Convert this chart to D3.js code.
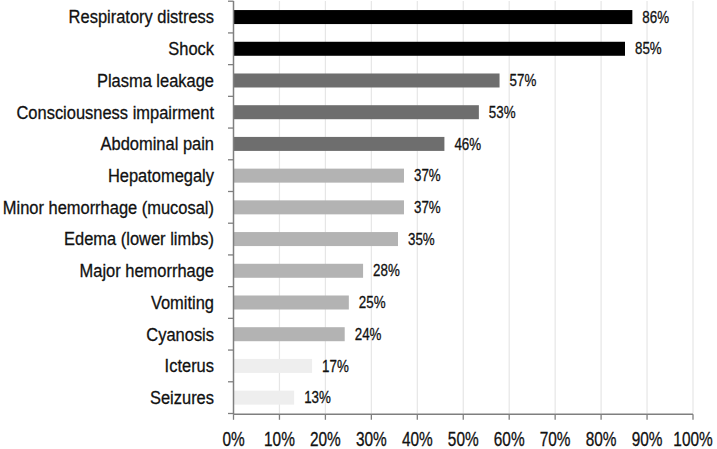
<!DOCTYPE html>
<html>
<head>
<meta charset="utf-8">
<script src="https://cdn.jsdelivr.net/npm/d3@7"></script>
<style>
  html, body { margin: 0; padding: 0; background: #fff; }
  svg { display: block; }
  text { font-family: "Liberation Sans", Arial, sans-serif; fill: #111; stroke: #111; stroke-width: 0.3px; }
</style>
</head>
<body>
<svg id="chart" width="717" height="449"></svg>
<script>
const categories = [
  "Respiratory distress", "Shock", "Plasma leakage", "Consciousness impairment",
  "Abdominal pain", "Hepatomegaly", "Minor hemorrhage (mucosal)", "Edema (lower limbs)",
  "Major hemorrhage", "Vomiting", "Cyanosis", "Icterus", "Seizures"
];
const values = [86.8, 85.2, 57.9, 53.4, 45.9, 37.1, 37.1, 35.8, 28.2, 25.1, 24.2, 17.1, 13.2];
const valueLabels = ["86%", "85%", "57%", "53%", "46%", "37%", "37%", "35%", "28%", "25%", "24%", "17%", "13%"];
const tiers = [0, 0, 1, 1, 1, 2, 2, 2, 2, 2, 2, 3, 3];
const xTicks = [0, 10, 20, 30, 40, 50, 60, 70, 80, 90, 100];
const tierColors = ["#000000", "#6e6e6e", "#b3b3b3", "#eeeeee"];

const svg = d3.select("#chart");
const x = d3.scaleLinear().domain([0, 100]).range([233.5, 693]);
const y = d3.scaleBand().domain(categories).range([1.2, 413.5]).padding(0);
const bw = y.bandwidth();
const barH = 14;

// gridlines
svg.append("g").selectAll("line").data(xTicks.slice(1)).join("line")
  .attr("x1", d => x(d)).attr("x2", d => x(d))
  .attr("y1", 1).attr("y2", 413.5)
  .attr("stroke", "#e6e6e6").attr("stroke-width", 1.2);

// bars
svg.append("g").selectAll("rect").data(categories).join("rect")
  .attr("x", x(0))
  .attr("y", d => y(d) + bw / 2 - barH / 2)
  .attr("width", (d, i) => x(values[i]) - x(0))
  .attr("height", barH)
  .attr("fill", (d, i) => tierColors[tiers[i]]);

// y axis line and ticks
svg.append("line").attr("x1", x(0)).attr("x2", x(0)).attr("y1", 1).attr("y2", 414.3)
  .attr("stroke", "#7f7f7f").attr("stroke-width", 1.5);
const bounds = categories.map(c => y(c)).concat([y.range()[1]]);
svg.append("g").selectAll("line").data(bounds).join("line")
  .attr("x1", x(0) - 5.5).attr("x2", x(0))
  .attr("y1", d => d).attr("y2", d => d)
  .attr("stroke", "#7f7f7f").attr("stroke-width", 1.3);

// x axis
const xAxisY = 414.3;
svg.append("line").attr("x1", x(0)).attr("x2", x(100)).attr("y1", xAxisY).attr("y2", xAxisY)
  .attr("stroke", "#7f7f7f").attr("stroke-width", 1.5);
svg.append("g").selectAll("line").data(xTicks).join("line")
  .attr("x1", d => x(d)).attr("x2", d => x(d))
  .attr("y1", xAxisY).attr("y2", xAxisY + 5.5)
  .attr("stroke", "#7f7f7f").attr("stroke-width", 1.3);

// x tick labels (condensed)
svg.append("g").selectAll("text").data(xTicks).join("text")
  .attr("transform", d => `translate(${x(d)},445.5) scale(0.77,1)`)
  .attr("text-anchor", "middle")
  .style("font-size", "20px")
  .text(d => d + "%");

// category labels (condensed)
svg.append("g").selectAll("text").data(categories).join("text")
  .attr("transform", d => `translate(214,${y(d) + bw / 2 + 6.3}) scale(0.88,1)`)
  .attr("text-anchor", "end")
  .style("font-size", "18.7px")
  .text(d => d);

// value labels
svg.append("g").selectAll("text").data(categories).join("text")
  .attr("transform", (d, i) => `translate(${x(values[i]) + 10},${y(d) + bw / 2 + 5.6}) scale(0.82,1)`)
  .attr("text-anchor", "start")
  .style("font-size", "16.3px")
  .text((d, i) => valueLabels[i]);
</script>
</body>
</html>
